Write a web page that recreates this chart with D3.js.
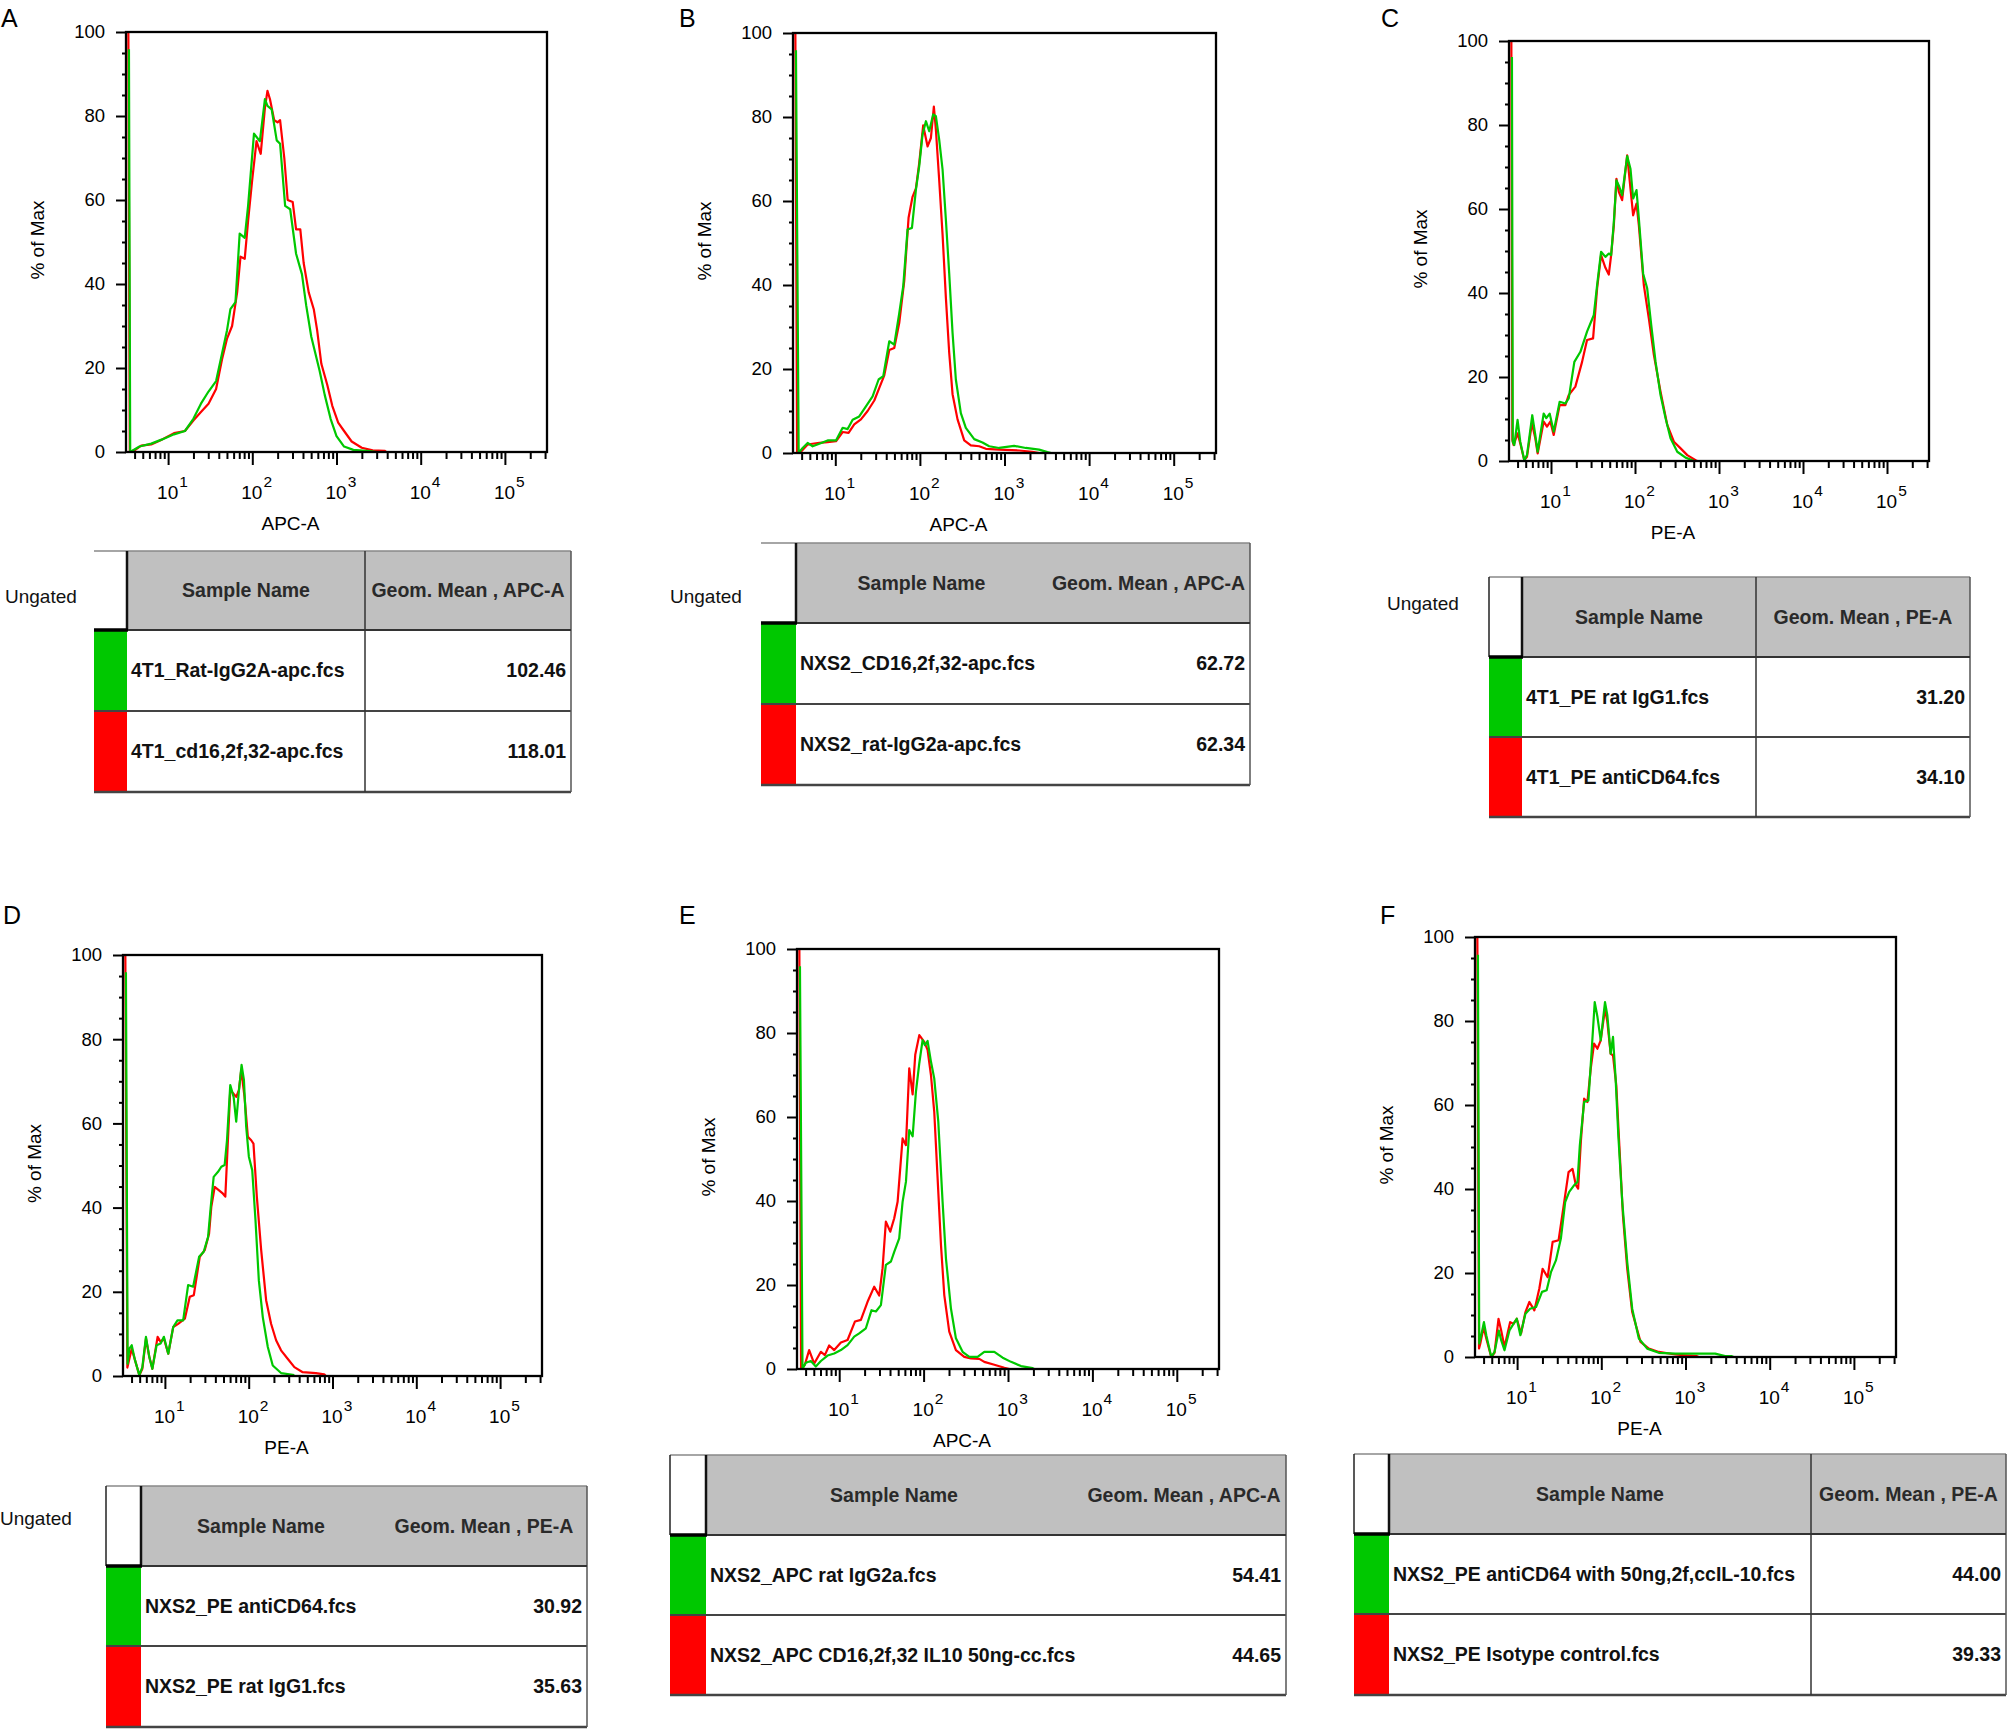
<!DOCTYPE html>
<html>
<head>
<meta charset="utf-8">
<script src="https://cdn.jsdelivr.net/npm/d3@7"></script>
<style>
  body { margin: 0; background: #fff; }
  svg { display: block; }
  text { font-family: "Liberation Sans", Arial, sans-serif; }
</style>
</head>
<body>
<svg id="fig" width="2009" height="1729"></svg>
<script>
"use strict";

/***** data *****/

const panels = ["A", "B", "C", "D", "E", "F"];
const channels = ["APC-A", "APC-A", "PE-A", "PE-A", "APC-A", "PE-A"];
const yTicks = [0, 20, 40, 60, 80, 100];
const decades = [1, 2, 3, 4, 5];

// histogram points: [log10 intensity, % of max]
const greenA = [[0.535,95.9],[0.55,0],[0.66,1.3],[0.80,2],[0.93,3],[1.07,4.2],[1.20,5],[1.30,7.9],[1.39,11.5],[1.48,14.4],[1.57,16.9],[1.64,23.4],[1.70,29],[1.74,34],[1.80,35.7],[1.85,52],[1.91,51],[1.95,58.6],[2.02,75.8],[2.09,74],[2.15,84],[2.18,82.4],[2.23,81.6],[2.29,74.2],[2.33,73.4],[2.39,58.6],[2.45,57.8],[2.52,47.2],[2.59,42.3],[2.64,34.9],[2.70,27.5],[2.80,19.3],[2.86,13.6],[2.93,7.9],[3.00,3.8],[3.09,1.3],[3.20,0.5],[3.39,0.2],[3.48,0]];
const redA = [[0.528,100],[0.545,0],[0.61,0.5],[0.68,1.5],[0.80,1.8],[0.93,3],[1.07,4.5],[1.20,5],[1.30,7.5],[1.39,9.5],[1.48,11.5],[1.57,15],[1.64,22],[1.70,27],[1.76,30],[1.82,38],[1.86,46.5],[1.91,46],[1.95,55],[2.00,65],[2.05,74],[2.10,71],[2.15,82],[2.18,86],[2.21,84],[2.26,79],[2.30,78.5],[2.33,79],[2.38,70],[2.42,60],[2.48,59.5],[2.52,53],[2.57,53],[2.61,45],[2.67,38],[2.73,34],[2.77,29],[2.82,21],[2.89,16],[2.95,11],[3.02,7],[3.09,5],[3.18,2.5],[3.30,1],[3.43,0.4],[3.57,0.3],[3.59,0]];

const greenB = [[0.535,95.9],[0.567,0],[0.614,1.2],[0.673,2.4],[0.732,1.6],[0.811,2.2],[0.909,3],[1.008,3],[1.087,6],[1.146,5.7],[1.205,7.9],[1.283,8.7],[1.362,11.1],[1.441,13.5],[1.512,17.5],[1.567,18.3],[1.638,26.6],[1.697,25.8],[1.756,33.3],[1.803,39.7],[1.854,53.2],[1.906,53.6],[1.953,62.7],[1.992,68.3],[2.031,75.8],[2.071,79],[2.110,76.6],[2.157,80.6],[2.189,80.2],[2.228,74.6],[2.268,67.5],[2.307,55.6],[2.346,42.9],[2.386,28.6],[2.425,17.5],[2.484,9.5],[2.543,6],[2.642,3.3],[2.740,2.5],[2.819,1.6],[2.937,1.2],[3.114,1.7],[3.252,1.2],[3.409,0.8],[3.508,0.2],[3.55,0]];
const redB = [[0.528,100],[0.548,0],[0.594,0.3],[0.673,2],[0.732,2.2],[0.811,2.4],[0.909,2.6],[1.008,2.8],[1.087,5],[1.157,4.8],[1.224,6.8],[1.303,8],[1.382,10],[1.461,12.5],[1.520,15.5],[1.579,18.5],[1.638,24.5],[1.697,25],[1.756,31],[1.815,41],[1.866,56],[1.913,61],[1.953,63],[1.992,69],[2.039,78],[2.091,73],[2.130,75],[2.165,82.5],[2.189,77],[2.228,65],[2.268,52],[2.307,37],[2.346,24],[2.386,14],[2.445,8],[2.524,3],[2.602,1.8],[2.701,1.6],[2.780,1.0],[2.937,0.8],[3.173,0.6],[3.331,0.3],[3.409,0]];

const greenC = [[0.535,96.2],[0.545,4.6],[0.563,3.8],[0.602,9.8],[0.634,4.6],[0.682,0.2],[0.714,1.4],[0.777,10.9],[0.813,6.2],[0.841,2.2],[0.913,11.3],[0.944,10.2],[0.984,11.3],[1.032,7],[1.103,14.1],[1.171,13.7],[1.211,14.9],[1.278,23.6],[1.350,26],[1.429,30.8],[1.509,34.7],[1.549,41.9],[1.596,49.8],[1.648,48.6],[1.688,49.4],[1.716,49],[1.748,56.9],[1.779,66.8],[1.807,65.6],[1.847,63.3],[1.907,72.6],[1.946,69.6],[1.978,62.5],[2.018,64.5],[2.046,57.7],[2.097,44.6],[2.145,41.1],[2.193,32.4],[2.245,23.6],[2.304,15.7],[2.364,10.2],[2.423,5.4],[2.503,2.2],[2.602,0.8],[2.682,0.2],[2.70,0]];
const redC = [[0.528,100],[0.54,5],[0.555,3.8],[0.602,6.6],[0.634,4.2],[0.682,0.2],[0.714,1],[0.773,9],[0.813,5.4],[0.841,1.8],[0.913,9.4],[0.952,8.2],[0.992,9.4],[1.032,6.2],[1.103,13.3],[1.171,13.3],[1.211,15.7],[1.290,17.7],[1.370,23.6],[1.429,28.8],[1.501,29.2],[1.549,41.1],[1.596,49],[1.648,46],[1.688,44.4],[1.716,49],[1.748,56.1],[1.779,67.2],[1.807,64.1],[1.847,62.1],[1.907,72.8],[1.946,64.9],[1.978,58.5],[2.018,61.3],[2.046,56.1],[2.105,41.9],[2.165,33.9],[2.225,25.2],[2.304,16.5],[2.384,8.6],[2.463,4.6],[2.543,3],[2.622,1.4],[2.722,0.2],[2.74,0]];

const greenD = [[0.535,95.9],[0.555,2.9],[0.576,6.5],[0.604,7.3],[0.644,3.7],[0.695,0.2],[0.731,2.1],[0.774,9.3],[0.814,4.5],[0.850,1.7],[0.901,7.3],[0.949,7.7],[0.988,9.3],[1.040,5.3],[1.099,11.6],[1.150,13.2],[1.218,13.2],[1.277,21.6],[1.337,21.2],[1.408,28.3],[1.463,29.5],[1.515,33],[1.547,40.2],[1.582,47.3],[1.634,48.5],[1.673,49.7],[1.713,50.1],[1.741,56],[1.780,69.1],[1.820,66.3],[1.851,60.4],[1.883,67.7],[1.915,73.9],[1.943,70.3],[1.970,59.2],[2.002,52.1],[2.042,48.9],[2.081,37],[2.121,22.7],[2.168,14],[2.228,6.9],[2.287,2.5],[2.386,0.7],[2.525,0.3],[2.545,0]];
const redD = [[0.528,100],[0.552,2],[0.576,4.1],[0.604,6.5],[0.644,3.7],[0.695,0.2],[0.731,1.7],[0.774,8.9],[0.814,4.5],[0.850,1.7],[0.913,9.3],[0.949,8.1],[0.988,8.9],[1.040,5.3],[1.099,11.6],[1.158,12.4],[1.238,13.6],[1.297,18.8],[1.345,19.2],[1.416,28.3],[1.475,29.9],[1.527,33.8],[1.554,40.2],[1.594,44.9],[1.646,44.1],[1.693,43.3],[1.721,42.6],[1.752,56],[1.780,67.9],[1.812,67.2],[1.851,66.3],[1.883,67.9],[1.911,72.7],[1.950,66.3],[1.990,56.8],[2.030,56],[2.057,55.2],[2.097,42.6],[2.149,29.9],[2.208,18],[2.267,12.4],[2.327,8.5],[2.386,6.1],[2.465,4.1],[2.545,2.1],[2.644,0.9],[2.802,0.7],[2.901,0.4],[2.92,0]];

const greenE = [[0.535,95.9],[0.565,0],[0.605,1.5],[0.664,1.9],[0.723,0.6],[0.783,1.9],[0.862,3.2],[0.941,3.7],[1.020,4.5],[1.099,5.7],[1.178,7.7],[1.237,8.5],[1.316,9.7],[1.383,14],[1.435,13.7],[1.494,15.2],[1.553,24.8],[1.613,25.6],[1.652,27.9],[1.711,31.1],[1.751,39.8],[1.791,44.6],[1.830,56.9],[1.870,55.4],[1.909,66],[1.949,72.8],[1.988,78.3],[2.016,77.1],[2.047,78.1],[2.087,73.2],[2.126,69.2],[2.174,58.9],[2.225,39.8],[2.265,26.3],[2.324,14.4],[2.383,7.3],[2.462,4.1],[2.542,2.9],[2.640,2.9],[2.719,4.1],[2.838,4.1],[2.937,2.7],[3.036,1.7],[3.154,0.7],[3.292,0.2],[3.31,0]];
const redE = [[0.528,100],[0.548,0],[0.593,1],[0.644,4.5],[0.704,1.3],[0.783,4.1],[0.830,3.3],[0.881,5.6],[0.941,4.5],[1.020,6.3],[1.099,6.9],[1.186,11.3],[1.257,11.7],[1.336,16],[1.415,19.6],[1.474,17.5],[1.514,24],[1.553,35.1],[1.605,32.7],[1.652,35.9],[1.692,39.8],[1.751,54.9],[1.791,53.3],[1.830,71.6],[1.870,65.4],[1.901,74.8],[1.949,79.5],[2.008,77.9],[2.047,76],[2.087,70],[2.126,61.3],[2.166,45.4],[2.206,29.5],[2.245,17.6],[2.304,8.9],[2.383,4.5],[2.482,2.9],[2.561,2.5],[2.660,2.4],[2.719,1.7],[2.838,1],[2.957,0.3],[3.016,0]];

const greenF = [[0.535,95.8],[0.55,3.2],[0.574,5.2],[0.606,8.3],[0.634,5.2],[0.693,0],[0.732,1.2],[0.783,6.3],[0.811,4],[0.850,1.6],[0.909,6.3],[0.957,7.9],[0.996,9.1],[1.039,5.2],[1.099,10.3],[1.154,11.5],[1.225,11.9],[1.296,15.5],[1.351,15.9],[1.402,20.2],[1.461,23],[1.520,28.2],[1.571,36.9],[1.619,39.3],[1.678,40.9],[1.717,41.7],[1.745,50.4],[1.796,60.7],[1.847,61.1],[1.887,73.4],[1.922,84.5],[1.954,81],[1.993,75.4],[2.044,84.5],[2.072,81.3],[2.111,72.2],[2.139,76.2],[2.170,66.3],[2.202,52.8],[2.249,36.9],[2.308,22.6],[2.367,11.5],[2.446,4.4],[2.545,2],[2.683,1],[2.880,0.8],[3.077,0.8],[3.353,0.8],[3.471,0.2],[3.550,0.2],[3.57,0]];
const redF = [[0.528,100],[0.548,2],[0.563,3.2],[0.602,7.1],[0.634,4.4],[0.693,0],[0.732,1],[0.779,9.1],[0.811,6.3],[0.850,2.4],[0.917,8.3],[0.957,7.9],[0.996,9.1],[1.047,5.6],[1.099,10.7],[1.146,13.1],[1.205,11.1],[1.264,16.3],[1.303,21],[1.363,19],[1.422,27.4],[1.493,27.8],[1.548,35.3],[1.611,44],[1.658,44.8],[1.698,40.9],[1.725,40.1],[1.757,51.2],[1.796,61.5],[1.835,60.7],[1.875,68.7],[1.914,74.6],[1.954,73.4],[1.993,75.4],[2.044,82.9],[2.072,79.8],[2.111,72.2],[2.139,71.8],[2.178,64.7],[2.210,52],[2.257,33.7],[2.308,21],[2.367,10.7],[2.466,3.6],[2.565,2],[2.683,1.2],[2.880,0.6],[2.998,0.4],[3.136,0.2],[3.156,0]];

const greenCurves = [greenA, greenB, greenC, greenD, greenE, greenF];
const redCurves = [redA, redB, redC, redD, redE, redF];

const greenSamples = ["4T1_Rat-IgG2A-apc.fcs", "NXS2_CD16,2f,32-apc.fcs", "4T1_PE rat IgG1.fcs",
                      "NXS2_PE antiCD64.fcs", "NXS2_APC rat IgG2a.fcs", "NXS2_PE antiCD64 with 50ng,2f,ccIL-10.fcs"];
const redSamples = ["4T1_cd16,2f,32-apc.fcs", "NXS2_rat-IgG2a-apc.fcs", "4T1_PE antiCD64.fcs",
                    "NXS2_PE rat IgG1.fcs", "NXS2_APC CD16,2f,32 IL10 50ng-cc.fcs", "NXS2_PE Isotype control.fcs"];
const greenMeans = ["102.46", "62.72", "31.20", "30.92", "54.41", "44.00"];
const redMeans = ["118.01", "62.34", "34.10", "35.63", "44.65", "39.33"];
const hasUngated = [true, true, true, true, false, false];


/***** layout *****/

const green = "#00c800", red = "#ff0000", headGray = "#c0c0c0";

const boxes = [
    {l: 126, t: 32, r: 547, b: 452},
    {l: 793, t: 33, r: 1216, b: 453},
    {l: 1509, t: 41, r: 1929, b: 461},
    {l: 123, t: 955, r: 542, b: 1376},
    {l: 797, t: 949, r: 1219, b: 1369},
    {l: 1475, t: 937, r: 1896, b: 1357}
];
const letterPos = [[1, 27], [679, 27], [1381, 27], [3, 924], [679, 924], [1380, 924]];

const tables = [
    {cl: 94, cr: 127, split: 365, right: 571, top: 551, hb: 630, r1: 711, r2: 792, divider: true, leftLine: false, ug: [5, 596]},
    {cl: 761, cr: 796, split: 1047, right: 1250, top: 543, hb: 623, r1: 704, r2: 785, divider: false, leftLine: false, ug: [670, 596]},
    {cl: 1489, cr: 1522, split: 1756, right: 1970, top: 577, hb: 657, r1: 737, r2: 817, divider: true, leftLine: true, ug: [1387, 603]},
    {cl: 106, cr: 141, split: 381, right: 587, top: 1486, hb: 1566, r1: 1646, r2: 1727, divider: false, leftLine: true, ug: [0, 1518]},
    {cl: 670, cr: 706, split: 1082, right: 1286, top: 1455, hb: 1535, r1: 1615, r2: 1695, divider: false, leftLine: true, ug: null},
    {cl: 1354, cr: 1389, split: 1811, right: 2006, top: 1454, hb: 1534, r1: 1614, r2: 1695, divider: true, leftLine: true, ug: null}
];

const svg = d3.select("#fig");
svg.append("rect").attr("width", 2009).attr("height", 1729).attr("fill", "#fff");


/***** histograms *****/

panels.forEach((p, i) => {
    const bx = boxes[i];
    const x = d3.scaleLog().domain([Math.pow(10, 0.5), Math.pow(10, 5.5)]).range([bx.l, bx.r]);
    const y = d3.scaleLinear().domain([0, 100]).range([bx.b, bx.t]);
    const g = svg.append("g").attr("class", "panel-" + p);

    g.append("clipPath").attr("id", "clip" + i)
    .append("rect")
    .attr("x", bx.l).attr("y", bx.t - 2)
    .attr("width", bx.r - bx.l).attr("height", bx.b - bx.t + 2);

    const line = d3.line()
    .x(d => x(Math.pow(10, d[0])))
    .y(d => y(d[1]));

    [[redCurves[i], red], [greenCurves[i], green]].forEach(([pts, col]) => {
        g.append("path")
        .datum(pts)
        .attr("d", line)
        .attr("fill", "none")
        .attr("stroke", col)
        .attr("stroke-width", 2.2)
        .attr("stroke-linejoin", "round")
        .attr("clip-path", `url(#clip${i})`);
    });

    // y axis: majors with labels, minors every 5
    const yMajor = g.append("g")
    .attr("transform", `translate(${bx.l},0)`)
    .call(d3.axisLeft(y).tickValues(yTicks).tickSize(10).tickPadding(11));
    const yMinor = g.append("g")
    .attr("transform", `translate(${bx.l},0)`)
    .call(d3.axisLeft(y).tickValues(y.ticks(20).filter(v => v % 20)).tickSize(4).tickFormat(""));

    // x axis: decade majors, minors from the log scale
    const majors = decades.map(e => Math.pow(10, e));
    const xMajor = g.append("g")
    .attr("transform", `translate(0,${bx.b})`)
    .call(d3.axisBottom(x).tickValues(majors).tickSize(13).tickFormat(""));
    const xMinor = g.append("g")
    .attr("transform", `translate(0,${bx.b})`)
    .call(d3.axisBottom(x).tickValues(x.ticks().filter(v => Math.abs(Math.log10(v) % 1) > 0.01)).tickSize(7).tickFormat(""));

    [yMajor, yMinor, xMajor, xMinor].forEach(a => {
        a.select(".domain").remove();
        a.selectAll("line").attr("stroke", "#000").attr("stroke-width", 2);
    });
    yMajor.selectAll("text")
    .attr("font-size", 18.5)
    .attr("fill", "#000")
    .style("font-family", '"Liberation Sans", Arial, sans-serif');

    // decade labels 10^n
    decades.forEach(e => {
        const t = g.append("text")
        .attr("x", x(Math.pow(10, e)) - 11)
        .attr("y", bx.b + 47)
        .attr("font-size", 19)
        .attr("fill", "#000");
        t.append("tspan").text("10");
        t.append("tspan").attr("dx", 1).attr("dy", -12).attr("font-size", 15.5).text(e);
    });

    // frame
    g.append("rect")
    .attr("x", bx.l).attr("y", bx.t)
    .attr("width", bx.r - bx.l).attr("height", bx.b - bx.t)
    .attr("fill", "none")
    .attr("stroke", "#000")
    .attr("stroke-width", 2.3);

    // titles
    g.append("text")
    .attr("x", (bx.l + bx.r) / 2 - 46)
    .attr("y", bx.b + 78)
    .attr("text-anchor", "middle")
    .attr("font-size", 19)
    .text(channels[i]);

    g.append("text")
    .attr("transform", `translate(${bx.l - 82},${(bx.t + bx.b) / 2 - 2}) rotate(-90)`)
    .attr("text-anchor", "middle")
    .attr("font-size", 19)
    .text("% of Max");

    svg.append("text")
    .attr("x", letterPos[i][0])
    .attr("y", letterPos[i][1])
    .attr("font-size", 25)
    .text(p);
});


/***** tables *****/

tables.forEach((t, i) => {
    const g = svg.append("g").attr("class", "table-" + panels[i]);

    g.append("rect")
    .attr("x", t.cr).attr("y", t.top)
    .attr("width", t.right - t.cr).attr("height", t.hb - t.top)
    .attr("fill", headGray);

    g.append("rect")
    .attr("x", t.cl).attr("y", t.hb)
    .attr("width", t.cr - t.cl).attr("height", t.r1 - t.hb)
    .attr("fill", green);
    g.append("rect")
    .attr("x", t.cl).attr("y", t.r1)
    .attr("width", t.cr - t.cl).attr("height", t.r2 - t.r1)
    .attr("fill", red);

    const seg = (x1, y1, x2, y2, col, w) => g.append("line")
        .attr("x1", x1).attr("y1", y1).attr("x2", x2).attr("y2", y2)
        .attr("stroke", col).attr("stroke-width", w);

    seg(t.cl, t.top, t.right, t.top, "#888", 1.5);
    seg(t.cl, t.r1, t.right, t.r1, "#444", 2);
    seg(t.cl, t.r2, t.right, t.r2, "#444", 2.5);
    seg(t.right, t.top, t.right, t.r2, "#555", 1.5);
    if (t.divider) seg(t.split, t.top, t.split, t.r2, "#333", 1.5);
    if (t.leftLine) seg(t.cl, t.top, t.cl, t.hb, "#222", 1.5);
    seg(t.cr, t.top, t.cr, t.hb, "#111", 2.5);
    seg(t.cl, t.hb, t.right, t.hb, "#333", 2);
    seg(t.cl, t.hb, t.cr + 1, t.hb, "#000", 3.5);

    const head = [[(t.cr + t.split) / 2, "Sample Name"], [(t.split + t.right) / 2, "Geom. Mean , " + channels[i]]];
    head.forEach(([hx, label]) => {
        g.append("text")
        .attr("x", hx).attr("y", (t.top + t.hb) / 2)
        .attr("dy", "0.35em")
        .attr("text-anchor", "middle")
        .attr("font-size", 19.5)
        .attr("font-weight", "bold")
        .attr("fill", "#2a2a2a")
        .text(label);
    });

    [[t.hb, t.r1, greenSamples[i], greenMeans[i]], [t.r1, t.r2, redSamples[i], redMeans[i]]]
    .forEach(([y0, y1, name, val]) => {
        g.append("text")
        .attr("x", t.cr + 4).attr("y", (y0 + y1) / 2)
        .attr("dy", "0.35em")
        .attr("font-size", 19.5)
        .attr("font-weight", "bold")
        .attr("fill", "#111")
        .text(name);
        g.append("text")
        .attr("x", t.right - 5).attr("y", (y0 + y1) / 2)
        .attr("dy", "0.35em")
        .attr("text-anchor", "end")
        .attr("font-size", 19.5)
        .attr("font-weight", "bold")
        .attr("fill", "#111")
        .text(val);
    });

    if (hasUngated[i]) {
        g.append("text")
        .attr("x", t.ug[0]).attr("y", t.ug[1])
        .attr("dy", "0.35em")
        .attr("font-size", 19)
        .attr("fill", "#111")
        .text("Ungated");
    }
});
</script>
</body>
</html>
